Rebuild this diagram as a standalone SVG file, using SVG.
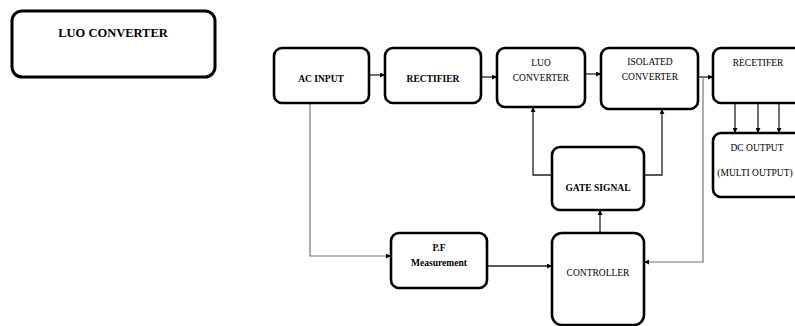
<svg xmlns="http://www.w3.org/2000/svg" width="795" height="326" viewBox="0 0 795 326">
<style>
.box{fill:#fff;stroke:#000;stroke-width:2.6}
.t{font-family:"Liberation Serif",serif;font-size:9.5px;fill:#000;text-anchor:middle}
.b{font-weight:bold}
.c{fill:none;stroke:#222;stroke-width:1.3}
.g{fill:none;stroke:#777;stroke-width:1.2}
</style>
<defs>
<marker id="ah" viewBox="0 0 10 10" refX="10" refY="5" markerWidth="5" markerHeight="5" orient="auto" markerUnits="userSpaceOnUse">
<path d="M0,0 L10,5 L0,10 Z" fill="#000"/>
</marker>
</defs>
<rect width="795" height="326" fill="#fff"/>
<g id="title">
<rect class="box" x="12" y="11" width="203" height="66" rx="10" style="stroke-width:3"/>
<text class="t b" x="113" y="37" style="font-size:12.5px">LUO CONVERTER</text>
</g>
<g id="connectors">
<line class="c" x1="369" y1="75" x2="385" y2="75" marker-end="url(#ah)"/>
<line class="c" x1="481" y1="77" x2="497" y2="77" marker-end="url(#ah)"/>
<line class="c" x1="585" y1="74" x2="601" y2="74" marker-end="url(#ah)"/>
<line class="c" x1="698" y1="77" x2="713" y2="77" marker-end="url(#ah)"/>
<line class="c" x1="735" y1="103" x2="735" y2="133" marker-end="url(#ah)"/>
<line class="c" x1="758" y1="103" x2="758" y2="133" marker-end="url(#ah)"/>
<line class="c" x1="779" y1="103" x2="779" y2="133" marker-end="url(#ah)"/>
<polyline class="c" points="552,175 533,175 533,107" marker-end="url(#ah)"/>
<polyline class="c" points="644,175 662,175 662,109" marker-end="url(#ah)"/>
<line class="c" x1="600" y1="233" x2="600" y2="210" marker-end="url(#ah)"/>
<polyline class="g" points="703,77 703,262 644,262" marker-end="url(#ah)"/>
<polyline class="g" points="310,103 310,256 391,256" marker-end="url(#ah)"/>
<line class="c" x1="487" y1="266" x2="552" y2="266" marker-end="url(#ah)"/>
</g>
<g id="ac_input">
<rect class="box" x="274" y="48" width="95" height="55" rx="8"/>
<text class="t b" x="321" y="82">AC INPUT</text>
</g>
<g id="rectifier">
<rect class="box" x="385" y="48" width="96" height="55" rx="8"/>
<text class="t b" x="433" y="82">RECTIFIER</text>
</g>
<g id="luo_converter">
<rect class="box" x="497" y="48" width="88" height="59" rx="8"/>
<text class="t" x="541" y="66">LUO</text>
<text class="t" x="541" y="81">CONVERTER</text>
</g>
<g id="isolated_converter">
<rect class="box" x="601" y="48" width="97" height="61" rx="8"/>
<text class="t" x="650" y="65">ISOLATED</text>
<text class="t" x="650" y="80">CONVERTER</text>
</g>
<g id="recetifer">
<rect class="box" x="713" y="48" width="95" height="55" rx="8"/>
<text class="t" x="758" y="66">RECETIFER</text>
</g>
<g id="dc_output">
<rect class="box" x="713" y="133" width="95" height="64" rx="8"/>
<text class="t" x="757" y="151">DC OUTPUT</text>
<text class="t" x="755" y="176">(MULTI OUTPUT)</text>
</g>
<g id="gate_signal">
<rect class="box" x="552" y="147" width="92" height="63" rx="8"/>
<text class="t b" x="598" y="191">GATE SIGNAL</text>
</g>
<g id="pf_measurement">
<rect class="box" x="391" y="233" width="96" height="55" rx="8"/>
<text class="t b" x="439" y="251">P.F</text>
<text class="t b" x="439" y="266">Measurement</text>
</g>
<g id="controller">
<rect class="box" x="552" y="233" width="92" height="92" rx="10"/>
<text class="t" x="598" y="276">CONTROLLER</text>
</g>
</svg>
